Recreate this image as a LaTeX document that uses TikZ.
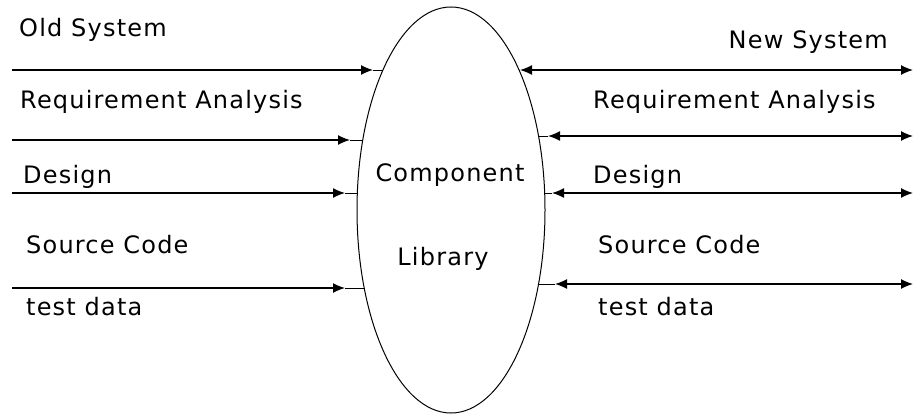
\documentclass[tikz,border=0pt]{standalone}
\usepackage{fontspec}
\setmainfont{DejaVu Sans}[LetterSpace=5]
\usetikzlibrary{arrows.meta,shapes.geometric}

\tikzset{
  lbl/.style={anchor=base west, inner sep=0pt, font=\fontsize{24}{28}\selectfont},
  flow/.style={line width=1.3pt, -{Latex[length=12pt,width=10pt]}},
  both/.style={line width=1.3pt, {Latex[length=12pt,width=10pt]}-{Latex[length=12pt,width=10pt]}},
  stub/.style={line width=1pt},
}

\begin{document}
\begin{tikzpicture}[x=1pt,y=-1pt]
  \useasboundingbox (0,0) rectangle (915,415);

  % the library in the middle
  \node[draw, ellipse, line width=1pt, minimum width=188pt, minimum height=406pt, inner sep=0pt] (lib) at (451,210) {};
  \node[lbl, anchor=base] (comp) at (450,181) {Component};
  \node[lbl, anchor=base] (libr) at (443,265) {Library};

  % old system side
  \node[lbl] (old) at (19,36) {Old System};
  \node[lbl] (reqL) at (20,108) {Requirement Analysis};
  \node[lbl] (desL) at (23,183) {Design};
  \node[lbl] (srcL) at (26,253) {Source Code};
  \node[lbl] (tstL) at (26,315) {test data};

  \foreach \y/\bx/\s [count=\i] in {70/383/10,140/363/13,193/357/12,288/364/19}{
    \coordinate (src\i) at (12,\y);
    \coordinate (in\i) at (\bx,\y);
    \draw[flow, shorten >=\s pt] (src\i) -- (in\i);
    \draw[stub] ([xshift=-\s pt]in\i) -- (in\i);
  }

  % new system side
  \node[lbl, anchor=base east] (new) at (888,48) {New System};
  \node[lbl] (reqR) at (593,108) {Requirement Analysis};
  \node[lbl] (desR) at (593,183) {Design};
  \node[lbl] (srcR) at (598,253) {Source Code};
  \node[lbl] (tstR) at (598,315) {test data};

  \foreach \y/\bx/\s [count=\i] in {70/519/1,136/539/9,193/545/7,284/539/16}{
    \coordinate (out\i) at (\bx,\y);
    \coordinate (dst\i) at (913,\y);
    \draw[both, shorten <=\s pt] (out\i) -- (dst\i);
    \draw[stub] (out\i) -- ([xshift=\s pt]out\i);
  }
\end{tikzpicture}
\end{document}
